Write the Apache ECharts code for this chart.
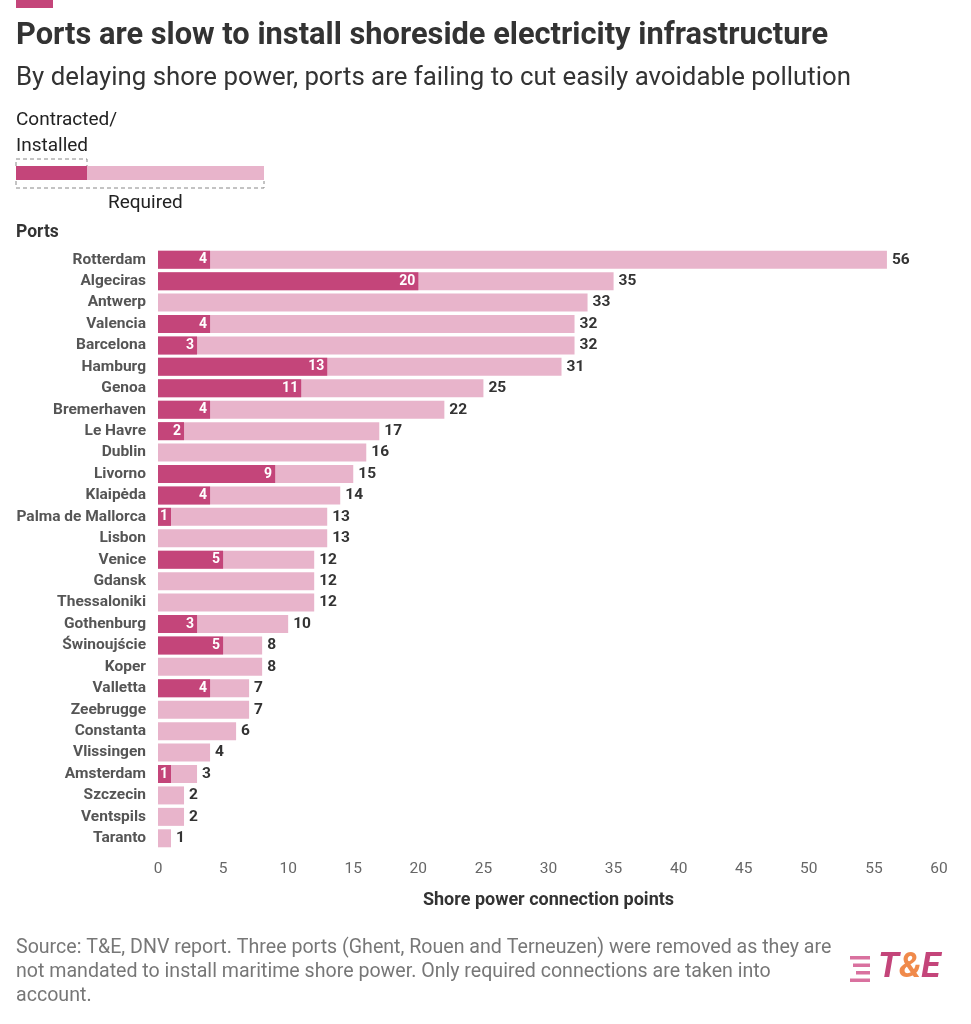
<!DOCTYPE html>
<html><head><meta charset="utf-8">
<script src="https://cdn.jsdelivr.net/npm/echarts@6/dist/echarts.min.js"></script>
<style>html,body{margin:0;padding:0;background:#fff}#c{width:971px;height:1024px}</style>
</head><body><div id="c"></div>
<script>
const ports = ["Rotterdam","Algeciras","Antwerp","Valencia","Barcelona","Hamburg","Genoa","Bremerhaven","Le Havre","Dublin","Livorno","Klaipėda","Palma de Mallorca","Lisbon","Venice","Gdansk","Thessaloniki","Gothenburg","Świnoujście","Koper","Valletta","Zeebrugge","Constanta","Vlissingen","Amsterdam","Szczecin","Ventspils","Taranto"];
const installed = [4,20,0,4,3,13,11,4,2,0,9,4,1,0,5,0,0,3,5,0,4,0,0,0,1,0,0,0];
const required = [56,35,33,32,32,31,25,22,17,16,15,14,13,13,12,12,12,10,8,8,7,7,6,4,3,2,2,1];
const xTicks = [0,60,5];
const F = 'Roboto, "Noto Sans", sans-serif';
const chart = echarts.init(document.getElementById('c'));
chart.setOption({
  animation:false,
  textStyle:{fontFamily:F},
  title:[
    {text:'Ports are slow to install shoreside electricity infrastructure',left:11,top:16,textStyle:{fontFamily:F,fontSize:30.8,fontWeight:'bold',color:'#333'}},
    {text:'By delaying shore power, ports are failing to cut easily avoidable pollution',left:11,top:61,textStyle:{fontFamily:F,fontSize:25.8,fontWeight:'normal',color:'#333'}}
  ],
  grid:{left:158,right:32,top:249,bottom:175},
  xAxis:{type:'value',min:xTicks[0],max:xTicks[1],interval:xTicks[2],
    name:'Shore power connection points',nameLocation:'middle',nameGap:42,
    nameTextStyle:{fontFamily:F,fontSize:18,fontWeight:'bold',color:'#333'},
    axisLabel:{fontFamily:F,fontSize:15.5,color:'#666',margin:12},splitLine:{show:false},axisLine:{show:false},axisTick:{show:false}},
  yAxis:{type:'category',data:ports,inverse:true,
    axisLabel:{fontFamily:F,fontSize:15.5,fontWeight:'bold',color:'#555',margin:12},
    axisLine:{show:false},axisTick:{show:false}},
  series:[
    {type:'bar',data:required,barWidth:18,itemStyle:{color:'#e8b4cb'},
     label:{show:true,position:'right',distance:5,fontFamily:F,fontSize:15.5,fontWeight:'bold',color:'#333'}},
    {type:'bar',data:installed,barWidth:18,barGap:'-100%',itemStyle:{color:'#c4457a'},
     label:{show:true,position:'insideRight',distance:3,fontFamily:F,fontSize:14,fontWeight:'bold',color:'#fff',
       formatter:p=>p.value>0?p.value:''}}
  ],
  graphic:[
    {type:'rect',left:16,top:0,shape:{width:37,height:8},style:{fill:'#c4457a'}},
    {type:'text',left:16,top:107,style:{text:'Contracted/\nInstalled',fontFamily:F,fontSize:19,fill:'#222',lineHeight:26}},
    {type:'rect',left:16,top:166,shape:{width:71,height:14},style:{fill:'#c4457a'}},
    {type:'rect',left:87,top:166,shape:{width:177,height:14},style:{fill:'#e8b4cb'}},
    {type:'polyline',shape:{points:[[16,166],[16,159],[87,159],[87,166]]},style:{stroke:'#888',lineDash:[4,3],fill:null,lineWidth:1}},
    {type:'polyline',shape:{points:[[16,181],[16,188],[264,188],[264,181]]},style:{stroke:'#888',lineDash:[4,3],fill:null,lineWidth:1}},
    {type:'text',left:108,top:194,style:{text:'Required',fontFamily:F,fontSize:19,fill:'#222'}},
    {type:'text',left:16,top:224,style:{text:'Ports',fontFamily:F,fontSize:17.5,fontWeight:'bold',fill:'#333'}},
    {type:'text',left:16,top:936,style:{text:'Source: T&E, DNV report. Three ports (Ghent, Rouen and Terneuzen) were removed as they are\nnot mandated to install maritime shore power. Only required connections are taken into\naccount.',fontFamily:F,fontSize:19.6,fill:'#777',lineHeight:24}},
    {type:'rect',left:850,top:956,shape:{width:20,height:3.5},style:{fill:'#d9719f'}},
    {type:'rect',left:853,top:963.5,shape:{width:17,height:3.5},style:{fill:'#d9719f'}},
    {type:'rect',left:856,top:971,shape:{width:14,height:3.5},style:{fill:'#d9719f'}},
    {type:'rect',left:850,top:978.5,shape:{width:20,height:3.5},style:{fill:'#d9719f'}},
    {type:'text',left:878,top:951,style:{rich:{a:{fill:'#c4457a',fontSize:35,fontWeight:'bold',fontStyle:'italic',fontFamily:F},b:{fill:'#f08a4b',fontSize:35,fontWeight:'bold',fontStyle:'italic',fontFamily:F}},text:'{a|T}{b|&}{a|E}'}}
  ]
});
</script></body></html>
